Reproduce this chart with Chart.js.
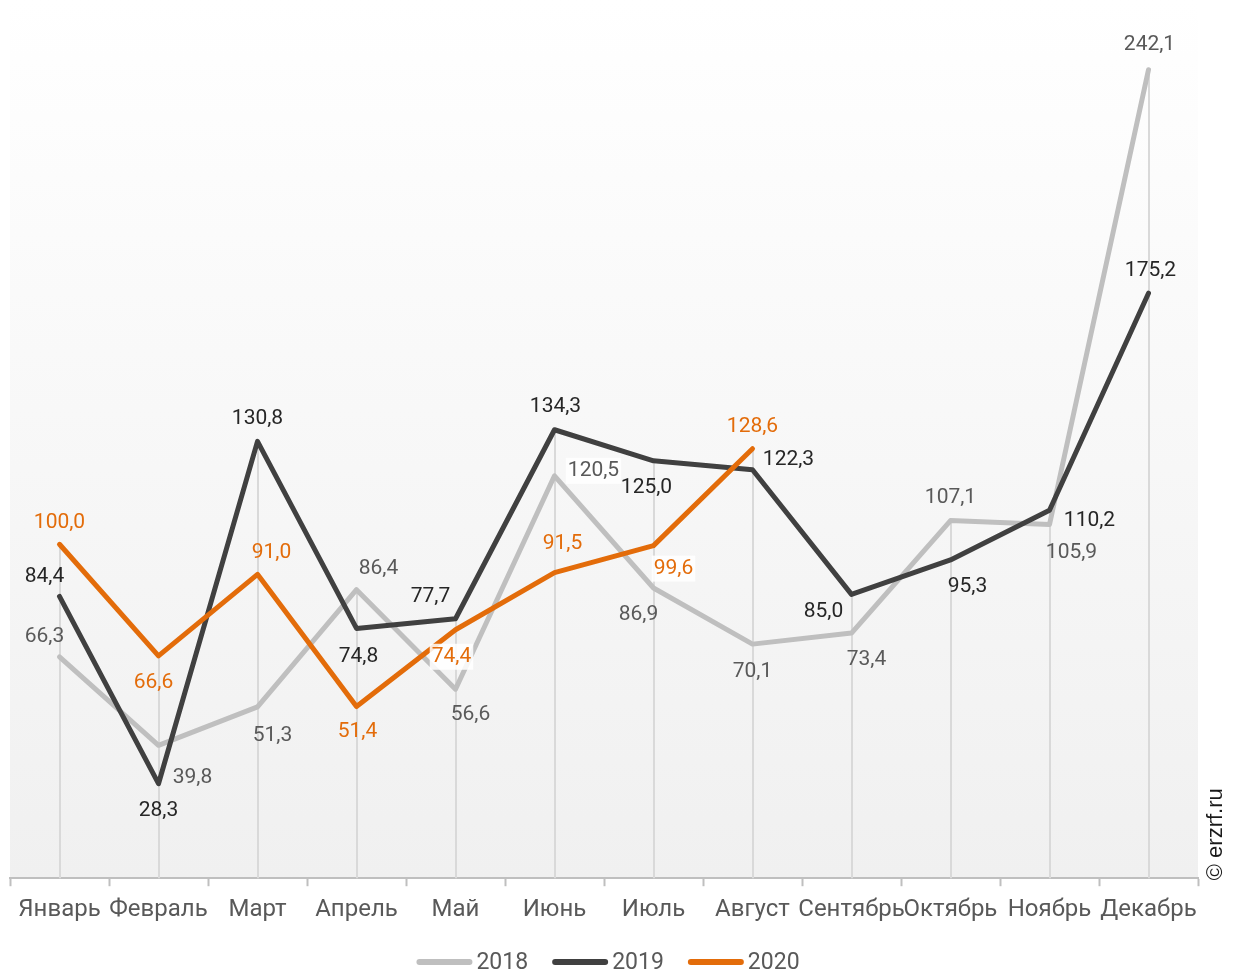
<!DOCTYPE html>
<html>
<head>
<meta charset="utf-8">
<script src="https://cdn.jsdelivr.net/npm/chart.js@4/dist/chart.umd.min.js"></script>
<style>
  html, body { margin: 0; padding: 0; background: #fff; }
  #wrap { width: 1236px; height: 974px; }
</style>
</head>
<body>
<div id="wrap"><canvas id="salesChart" width="1236" height="974"></canvas></div>
<script>
const months = ['Январь', 'Февраль', 'Март', 'Апрель', 'Май', 'Июнь', 'Июль', 'Август', 'Сентябрь', 'Октябрь', 'Ноябрь', 'Декабрь'];
const years = ['2018', '2019', '2020'];
const values2018 = [66.3, 39.8, 51.3, 86.4, 56.6, 120.5, 86.9, 70.1, 73.4, 107.1, 105.9, 242.1];
const values2019 = [84.4, 28.3, 130.8, 74.8, 77.7, 134.3, 125.0, 122.3, 85.0, 95.3, 110.2, 175.2];
const values2020 = [100.0, 66.6, 91.0, 51.4, 74.4, 91.5, 99.6, 128.6, null, null, null, null];

// where each value label sits relative to its point (dx, dy of the text centre)
const labelShift2018 = [[-15, -20], [34, 32], [15, 29], [22, -21], [15, 26], [39, -5], [-15, 27], [0, 28], [15, 27], [0, -23], [22, 28], [1, -25]];
const labelShift2019 = [[-15, -20], [0, 27], [0, -23], [2, 28], [-25, -22], [1, -23], [-7, 27], [36, -10], [-28, 17], [17, 27], [40, 11], [2, -22]];
const labelShift2020 = [[0, -22], [-5, 27], [14, -22], [1, 25], [-4, 27], [8, -29], [20, 23], [0, -22]];

const colors = ['#bfbfbf', '#404040', '#e36c0a'];
const labelColors = ['#595959', '#262626', '#e36c0a'];
const FONT = 'Roboto';

function fmt(v) {
    return v.toFixed(1).replace('.', ',');
}

// light-grey gradient behind the plot
const plotBackground = {
    id: 'plotBackground',
    beforeDraw(chart) {
        const { ctx, chartArea: a } = chart;
        const g = ctx.createLinearGradient(0, a.top - 10, 0, a.bottom);
        g.addColorStop(0, '#ffffff');
        g.addColorStop(1, '#f0f0f0');
        ctx.save();
        ctx.fillStyle = g;
        ctx.fillRect(a.left, a.top - 10, a.right - a.left, a.bottom - a.top + 10);
        ctx.restore();
    }
};

// vertical lines from the axis up to the highest point of each month
const dropLines = {
    id: 'dropLines',
    beforeDatasetsDraw(chart) {
        const { ctx, chartArea: a } = chart;
        const y = chart.scales.y;
        const x = chart.scales.x;
        ctx.save();
        ctx.strokeStyle = '#d9d9d9';
        ctx.lineWidth = 2;
        months.forEach((m, i) => {
            const top = Math.max(...[values2018[i], values2019[i], values2020[i]].filter(v => v != null));
            const px = Math.round(x.getPixelForValue(i));
            ctx.beginPath();
            ctx.moveTo(px, a.bottom);
            ctx.lineTo(px, y.getPixelForValue(top));
            ctx.stroke();
        });
        ctx.restore();
    }
};

// value labels next to every point
const valueLabels = {
    id: 'valueLabels',
    afterDatasetsDraw(chart) {
        const { ctx } = chart;
        const shifts = [labelShift2018, labelShift2019, labelShift2020];
        const boxed = { '0-5': true, '2-4': true, '2-6': true };
        ctx.save();
        ctx.font = '21px ' + FONT;
        ctx.textAlign = 'center';
        ctx.textBaseline = 'middle';
        chart.data.datasets.forEach((ds, d) => {
            const meta = chart.getDatasetMeta(d);
            ds.data.forEach((v, i) => {
                if (v == null) return;
                const pt = meta.data[i];
                const [dx, dy] = shifts[d][i];
                const tx = pt.x + dx, ty = pt.y + dy;
                const text = fmt(v);
                if (boxed[d + '-' + i]) {
                    const w = ctx.measureText(text).width;
                    ctx.fillStyle = 'rgba(255,255,255,0.85)';
                    ctx.fillRect(tx - w / 2 - 2, ty - 13, w + 4, 26);
                }
                ctx.fillStyle = labelColors[d];
                ctx.fillText(text, tx, ty);
            });
        });
        ctx.restore();
    }
};

// legend row under the axis: rounded line swatch + year
const lineLegend = {
    id: 'lineLegend',
    afterDraw(chart) {
        const { ctx, chartArea: a } = chart;
        const sw = 56, gapText = 4, gapItem = 24, y = 962;
        ctx.save();
        ctx.font = '23px ' + FONT;
        ctx.textBaseline = 'middle';
        ctx.textAlign = 'left';
        const items = chart.data.datasets.map(ds => ({ ds, w: ctx.measureText(ds.label).width }));
        const total = items.reduce((s, it) => s + sw + gapText + it.w, 0) + gapItem * (items.length - 1);
        let x = (a.left + a.right) / 2 - total / 2 + 4;
        items.forEach(it => {
            ctx.strokeStyle = it.ds.borderColor;
            ctx.lineWidth = 6;
            ctx.lineCap = 'round';
            ctx.beginPath();
            ctx.moveTo(x + 3, y);
            ctx.lineTo(x + sw - 3, y);
            ctx.stroke();
            ctx.fillStyle = '#595959';
            ctx.fillText(it.ds.label, x + sw + gapText, y + 1);
            x += sw + gapText + it.w + gapItem;
        });
        ctx.restore();
    }
};

// rotated source note on the right edge
const sourceNote = {
    id: 'sourceNote',
    afterDraw(chart) {
        const { ctx, chartArea: a } = chart;
        ctx.save();
        ctx.translate(1216, a.bottom + 2);
        ctx.rotate(-Math.PI / 2);
        ctx.font = '22px "Liberation Sans", Arial, sans-serif';
        ctx.fillStyle = '#1a1a1a';
        ctx.textAlign = 'left';
        ctx.textBaseline = 'middle';
        ctx.fillText('© erzrf.ru', 0, 0);
        ctx.restore();
    }
};

function lineSet(label, data, color, order) {
    return {
        label: label,
        data: data,
        borderColor: color,
        backgroundColor: color,
        borderWidth: 5,
        borderCapStyle: 'round',
        borderJoinStyle: 'round',
        pointRadius: 0,
        pointHoverRadius: 0,
        tension: 0,
        spanGaps: false,
        order: order
    };
}

const ctx = document.getElementById('salesChart').getContext('2d');
const chart = new Chart(ctx, {
    type: 'line',
    data: {
        labels: months,
        datasets: [
            lineSet(years[0], values2018, colors[0], 3),
            lineSet(years[1], values2019, colors[1], 2),
            lineSet(years[2], values2020, colors[2], 1)
        ]
    },
    options: {
        responsive: false,
        animation: false,
        layout: { padding: { left: 10, right: 38, top: 10, bottom: 41 } },
        scales: {
            x: {
                offset: true,
                grid: {
                    offset: true,
                    drawOnChartArea: false,
                    drawTicks: true,
                    tickLength: 8,
                    tickWidth: 2,
                    tickColor: '#bfbfbf'
                },
                border: { display: true, color: '#bfbfbf', width: 2 },
                ticks: {
                    color: '#595959',
                    font: { family: FONT, size: 24 },
                    padding: 9,
                    maxRotation: 0,
                    autoSkip: false
                }
            },
            y: {
                display: false,
                min: 0,
                max: 260
            }
        },
        plugins: {
            tooltip: { enabled: false },
            legend: { display: false }
        }
    },
    plugins: [plotBackground, dropLines, valueLabels, lineLegend, sourceNote]
});
</script>
</body>
</html>
